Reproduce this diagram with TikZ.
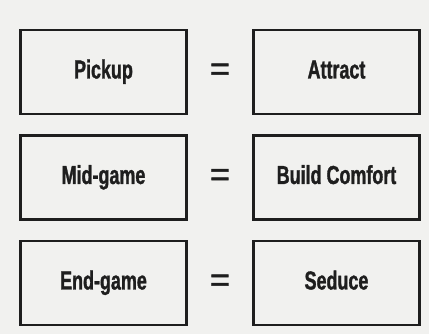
\documentclass[tikz,border=0pt]{standalone}
\usepackage{fontspec}
\setmainfont{Liberation Sans}[FakeStretch=0.69,FakeBold=1.2]
\newfontfamily\eqfont{Liberation Sans}[FakeBold=1.5]
\usetikzlibrary{calc,positioning}
\definecolor{Ink}{HTML}{1E1E1E}
\definecolor{Paper}{HTML}{F1F1EF}
\tikzset{
  stage/.style={
    draw=Ink, line width=2.2pt, fill=Paper,
    minimum width=166pt, minimum height=84pt, align=center,
    text height=18pt, text depth=5pt,
    font=\fontsize{26}{28}\selectfont\bfseries, text=Ink
  },
  eqsign/.style={
    inner sep=0pt, text=Ink, font=\eqfont\fontsize{34}{34}\selectfont
  }
}

\begin{document}
\begin{tikzpicture}[node distance=19.3pt and 64.8pt]
  \fill[Paper] (0,0) rectangle (429pt,-334pt);
  \useasboundingbox (0,0) rectangle (429pt,-334pt);
    \node[stage] (pickup) at (103.5pt,-72pt) {Pickup};
    \node[stage,right=of pickup] (attract) {Attract};
    \node[stage,below=of pickup] (midgame) {Mid-game};
    \node[stage,right=of midgame] (comfort) {Build Comfort};
    \node[stage,below=of midgame] (endgame) {End-game};
    \node[stage,right=of endgame] (seduce) {Seduce};
    \node[eqsign] (eq1) at ($(pickup.east)!0.5!(attract.west)$) {=};
    \node[eqsign] (eq2) at ($(midgame.east)!0.5!(comfort.west)$) {=};
    \node[eqsign] (eq3) at ($(endgame.east)!0.5!(seduce.west)$) {=};
  \end{tikzpicture}
\end{document}
